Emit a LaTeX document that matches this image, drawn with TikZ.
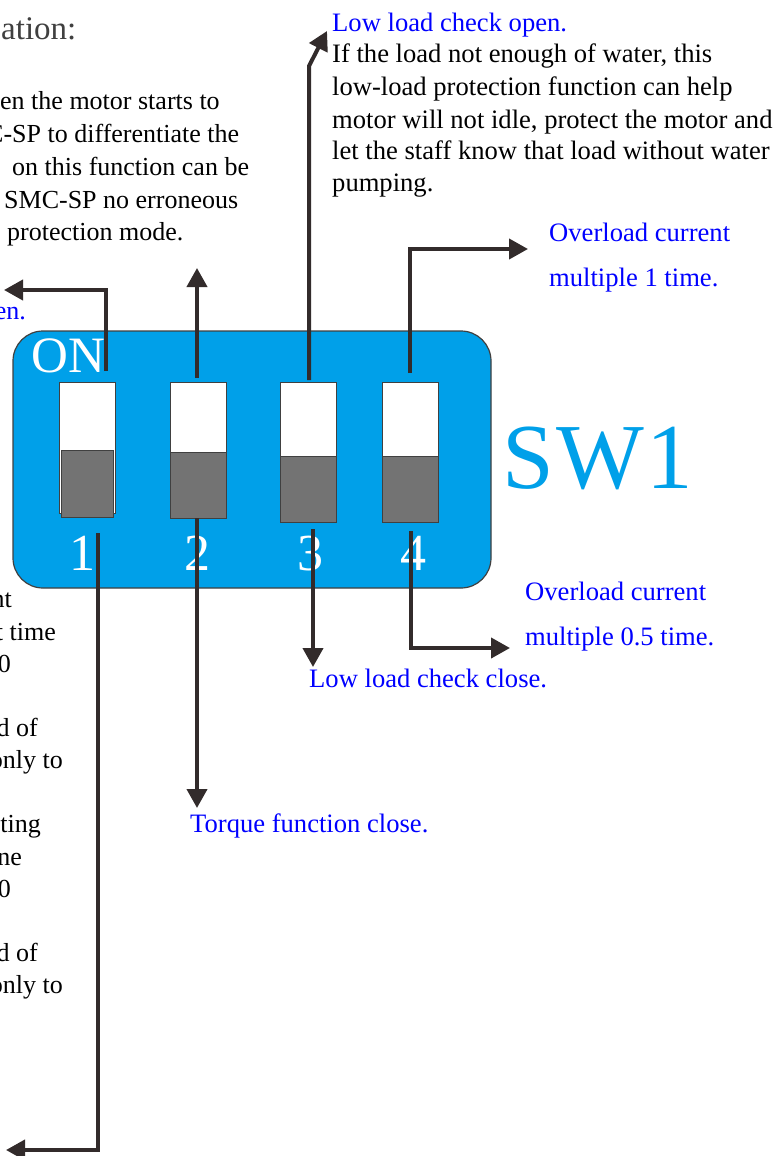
\documentclass[tikz,border=0pt]{standalone}
\usepackage{fontspec}
\setmainfont{Liberation Serif}
\usetikzlibrary{arrows.meta}
\definecolor{dipcolor0001}{RGB}{0,160,233}
\definecolor{dipcolor0002}{RGB}{115,115,115}
\definecolor{dipcolor0003}{RGB}{50,43,43}
\definecolor{dipcolor0004}{RGB}{0,0,255}
\definecolor{dipcolor0005}{RGB}{64,64,64}
\begin{document}
\begin{tikzpicture}[yscale=-1
,pstyle0/.style={draw=dipcolor0005,fill=dipcolor0001,line width=1.2pt,rounded corners=30pt}
,pstyle1/.style={draw=dipcolor0005,fill=white,line width=0.8pt}
,pstyle2/.style={draw=dipcolor0005,fill=dipcolor0002,line width=0.8pt}
,pstyle3/.style={color=dipcolor0003,line width=4.0pt,-{Triangle[length=19pt,width=20pt]}}
,pstyle4/.style={anchor=base west,inner sep=0pt,font=\fontsize{26.6}{32}\selectfont}
,pstyle5/.style={anchor=base east,inner sep=0pt,font=\fontsize{26}{32}\selectfont}
,pstyle6/.style={anchor=base,inner sep=0pt,color=white,font=\fontsize{52}{60}\selectfont}
,pstyle7/.style={anchor=base west,inner sep=0pt,font=\fontsize{26}{32}\selectfont}
]
\useasboundingbox (0pt,0pt) rectangle (777pt,1156pt);
\clip (0pt,0pt) rectangle (777pt,1156pt);
\draw[pstyle0] (13pt,331pt) rectangle (491pt,588pt);
\draw[pstyle1] (59pt,382pt) rectangle (115pt,513pt);
\draw[pstyle2] (61pt,450pt) rectangle (113pt,517pt);
\draw[pstyle1] (170pt,382pt) rectangle (226pt,518pt);
\draw[pstyle2] (170pt,452pt) rectangle (226pt,518pt);
\draw[pstyle1] (280pt,382pt) rectangle (336pt,522pt);
\draw[pstyle2] (280pt,456pt) rectangle (336pt,522pt);
\draw[pstyle1] (382pt,382pt) rectangle (438pt,522pt);
\draw[pstyle2] (382pt,456pt) rectangle (438pt,522pt);
\node (on) at (31pt,372pt)[anchor=base west,inner sep=0pt,color=white,font=\fontsize{51}{60}\selectfont]{ON};
\node (num1) at (82pt,570pt)[pstyle6]{1};
\node (num2) at (197pt,570pt)[pstyle6]{2};
\node (num3) at (310pt,570pt)[pstyle6]{3};
\node (num4) at (413pt,570pt)[pstyle6]{4};
\node (sw) at (502pt,488pt)[anchor=base west,inner sep=0pt,color=dipcolor0001,font=\fontsize{93}{100}\selectfont]{S\kern3pt W\kern2pt 1};
% heading and description, cut at the left edge
\node (head) at (1pt,40pt)[pstyle7,color=dipcolor0005,font=\fontsize{33}{38}\selectfont]{ation:};
\node (desc1) at (0pt,109pt)[pstyle7]{en the motor starts to};
\node (desc2) at (-14pt,142pt)[pstyle7]{C-SP to differentiate the};
\node (desc3) at (12pt,175pt)[pstyle7]{on this function can be};
\node (desc4) at (4pt,208pt)[pstyle7]{SMC-SP no erroneous};
\node (desc5) at (7pt,240pt)[pstyle7]{protection mode.};
\node (open1) at (26pt,319pt)[pstyle5,color=dipcolor0004]{en.};
\node (left1) at (12pt,607pt)[pstyle5]{nt};
\node (left2) at (56pt,640pt)[pstyle5]{t time};
\node (left3) at (11pt,672pt)[pstyle5]{0};
\node (left4) at (38pt,736pt)[pstyle5]{d of};
\node (left5) at (63pt,768pt)[pstyle5]{only to};
\node (left6) at (41pt,832pt)[pstyle5]{ting};
\node (left7) at (22pt,865pt)[pstyle5]{ne};
\node (left8) at (11pt,897pt)[pstyle5]{0};
\node (left9) at (38pt,961pt)[pstyle5]{d of};
\node (left10) at (63pt,993pt)[pstyle5]{only to};
% labels of the switches
\node (open3) at (332pt,32pt)[pstyle4,color=dipcolor0004]{Low load check open.};
\node (info1) at (332pt,63pt)[pstyle4]{If the load not enough of water, this};
\node (info2) at (332pt,95pt)[pstyle4]{low-load protection function can help};
\node (info3) at (332pt,128pt)[pstyle4]{motor will not idle, protect the motor and};
\node (info4) at (332pt,159pt)[pstyle4]{let the staff know that load without water};
\node (info5) at (332pt,191pt)[pstyle4]{pumping.};
\node (open4a) at (549pt,241pt)[pstyle4,color=dipcolor0004]{Overload current};
\node (open4b) at (549pt,286pt)[pstyle4,color=dipcolor0004]{multiple 1 time.};
\node (close4a) at (525pt,600pt)[pstyle4,color=dipcolor0004]{Overload current};
\node (close4b) at (525pt,645pt)[pstyle4,color=dipcolor0004]{multiple 0.5 time.};
\node (close3) at (309pt,687pt)[pstyle4,color=dipcolor0004]{Low load check close.};
\node (close2) at (190pt,832pt)[pstyle4,color=dipcolor0004]{Torque function close.};
% arrow ends
\coordinate (s1up) at (106pt,371pt);
\coordinate (s1dn) at (98pt,533pt);
\coordinate (s2up) at (197pt,378pt);
\coordinate (s2dn) at (197pt,518pt);
\coordinate (s3up) at (309pt,380pt);
\coordinate (s3dn) at (313pt,529pt);
\coordinate (s4up) at (410pt,373pt);
\coordinate (s4dn) at (411pt,531pt);
\coordinate (e1up) at (4pt,290pt);
\coordinate (e1dn) at (6pt,1150pt);
\coordinate (e2up) at (197pt,268pt);
\coordinate (e2dn) at (197pt,808pt);
\coordinate (k3up) at (309pt,66pt);
\coordinate (e3up) at (327pt,31pt);
\coordinate (e3dn) at (313pt,667pt);
\coordinate (e4up) at (528pt,249pt);
\coordinate (e4dn) at (510pt,648pt);
\draw[pstyle3] (s1up) |- (e1up);
\draw[pstyle3] (s1dn) |- (e1dn);
\draw[pstyle3] (s2up) -- (e2up);
\draw[pstyle3] (s2dn) -- (e2dn);
\draw[pstyle3] (s3up) -- (k3up) -- (e3up);
\draw[pstyle3] (s3dn) -- (e3dn);
\draw[pstyle3] (s4up) |- (e4up);
\draw[pstyle3] (s4dn) |- (e4dn);
\end{tikzpicture}
\end{document}
